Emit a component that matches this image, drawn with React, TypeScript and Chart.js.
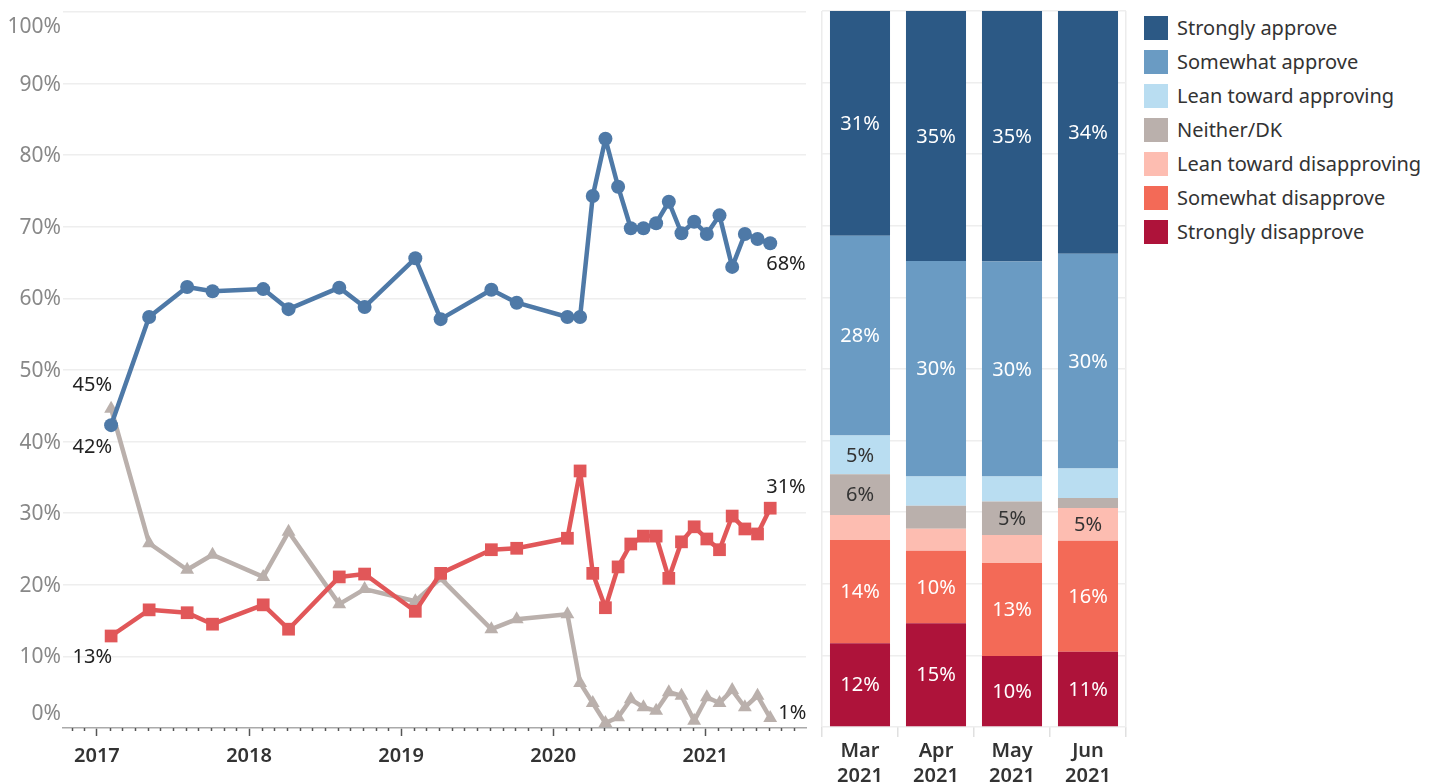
import React, { useEffect, useRef } from 'react';
import { Chart, registerables } from 'chart.js';

Chart.register(...registerables);

const FONT = '"Noto Sans", "DejaVu Sans", sans-serif';

// ---------- Line chart data ----------
const surveyDates = [
  '2017-02', '2017-05', '2017-08', '2017-10', '2018-02', '2018-04', '2018-08', '2018-10',
  '2019-02', '2019-04', '2019-08', '2019-10', '2020-02', '2020-03', '2020-04', '2020-05',
  '2020-06', '2020-07', '2020-08', '2020-09', '2020-10', '2020-11', '2020-12', '2021-01',
  '2021-02', '2021-03', '2021-04', '2021-05', '2021-06',
];
const approveValues = [
  42.3, 57.4, 61.6, 61.0, 61.3, 58.5, 61.5, 58.8,
  65.6, 57.1, 61.2, 59.4, 57.4, 57.4, 74.3, 82.3,
  75.6, 69.8, 69.8, 70.5, 73.5, 69.1, 70.7, 69.0,
  71.6, 64.4, 69.0, 68.3, 67.7,
];
const disapproveValues = [
  12.85, 16.5, 16.1, 14.5, 17.2, 13.8, 21.1, 21.5,
  16.3, 21.6, 24.9, 25.1, 26.5, 35.9, 21.6, 16.8,
  22.5, 25.7, 26.8, 26.8, 20.9, 26.0, 28.1, 26.4,
  24.9, 29.6, 27.8, 27.1, 30.7,
];
const neitherValues = [
  44.6, 25.8, 22.1, 24.2, 21.1, 27.4, 17.3, 19.4,
  17.7, 20.9, 13.8, 15.2, 15.9, 6.3, 3.5, 0.7,
  1.5, 4.0, 2.9, 2.4, 5.0, 4.5, 1.0, 4.3,
  3.5, 5.3, 2.9, 4.5, 1.4,
];
const yearTicks = [2017, 2018, 2019, 2020, 2021];
const percentTicks = [0, 10, 20, 30, 40, 50, 60, 70, 80, 90, 100];

// ---------- Bar chart data ----------
const barMonths = [['Mar', '2021'], ['Apr', '2021'], ['May', '2021'], ['Jun', '2021']];
const responseNames = [
  'Strongly approve', 'Somewhat approve', 'Lean toward approving', 'Neither/DK',
  'Lean toward disapproving', 'Somewhat disapprove', 'Strongly disapprove',
];
const stronglyApprove = [31.4, 34.9, 35.0, 33.9];
const somewhatApprove = [27.9, 30.1, 30.0, 30.0];
const leanApprove = [5.4, 4.1, 3.5, 4.1];
const neitherDK = [5.7, 3.2, 4.7, 1.4];
const leanDisapprove = [3.5, 3.1, 3.9, 4.6];
const somewhatDisapprove = [14.4, 10.1, 13.0, 15.5];
const stronglyDisapprove = [11.7, 14.5, 9.9, 10.5];

const responseValues = [
  stronglyApprove, somewhatApprove, leanApprove, neitherDK,
  leanDisapprove, somewhatDisapprove, stronglyDisapprove,
];
const responseColors = ['#2c5985', '#6a9bc3', '#b9ddf1', '#bab0ac', '#fdbdb1', '#f36a57', '#ae133a'];
const responseLabelColors = ['#ffffff', '#ffffff', '#333333', '#333333', '#333333', '#ffffff', '#ffffff'];

const BLUE = '#4e79a7';
const RED = '#e15759';
const GRAY = '#bab0ac';

const toYear = (d: string) => {
  const [y, m] = d.split('-').map(Number);
  return y + (m - 1) / 12 + 0.01;
};

const labelPlacements = [
  { dataset: 2, which: 'first', align: 'right', dx: 1, dy: -23 },
  { dataset: 0, which: 'first', align: 'right', dx: 1, dy: 22 },
  { dataset: 1, which: 'first', align: 'right', dx: 1, dy: 21 },
  { dataset: 0, which: 'last', align: 'left', dx: -4, dy: 21 },
  { dataset: 1, which: 'last', align: 'left', dx: -4, dy: -21 },
  { dataset: 2, which: 'last', align: 'left', dx: 8, dy: -5 },
];

const endLabelsPlugin = {
  id: 'endLabels',
  afterDatasetsDraw(chart: any) {
    const ctx = chart.ctx;
    ctx.save();
    ctx.font = `20px ${FONT}`;
    ctx.fillStyle = '#222';
    ctx.textBaseline = 'middle';
    labelPlacements.forEach((p) => {
      const meta = chart.getDatasetMeta(p.dataset);
      const idx = p.which === 'first' ? 0 : meta.data.length - 1;
      const el = meta.data[idx];
      const v = chart.data.datasets[p.dataset].data[idx].y;
      ctx.textAlign = p.align;
      ctx.fillText(Math.round(v) + '%', el.x + p.dx, el.y + p.dy);
    });
    ctx.restore();
  },
};

// y-axis labels drawn from the scale, nudging the edge labels inward as in the original
const yLabelsPlugin = {
  id: 'yLabels',
  afterDraw(chart: any) {
    const scale = chart.scales.y;
    const ctx = chart.ctx;
    ctx.save();
    ctx.font = `21px ${FONT}`;
    ctx.fillStyle = '#888';
    ctx.textAlign = 'right';
    ctx.textBaseline = 'middle';
    percentTicks.forEach((v) => {
      const y = scale.getPixelForValue(v);
      const shift = v === 100 ? 15 : v === 0 ? -14 : 1;
      ctx.fillText(v + '%', scale.right - 2, y + shift);
    });
    ctx.restore();
  },
};

const minorTicksPlugin = {
  id: 'minorTicks',
  afterDraw(chart: any) {
    const scale = chart.scales.x;
    const ctx = chart.ctx;
    const bottom = chart.chartArea.bottom;
    ctx.save();
    ctx.strokeStyle = '#555';
    ctx.lineWidth = 1.5;
    const start = Math.ceil(scale.min * 12);
    const end = Math.floor(scale.max * 12);
    for (let m = start; m <= end; m++) {
      if (m % 12 === 0) continue;
      const x = Math.round(scale.getPixelForValue(m / 12)) + 0.5;
      ctx.beginPath();
      ctx.moveTo(x, bottom);
      ctx.lineTo(x, bottom + 3);
      ctx.stroke();
    }
    ctx.restore();
  },
};

const barLabelsPlugin = {
  id: 'barLabels',
  afterDatasetsDraw(chart: any) {
    const ctx = chart.ctx;
    ctx.save();
    ctx.font = `20px ${FONT}`;
    ctx.textAlign = 'center';
    ctx.textBaseline = 'middle';
    chart.data.datasets.forEach((ds: any, di: number) => {
      const meta = chart.getDatasetMeta(di);
      meta.data.forEach((el: any, i: number) => {
        const v = ds.data[i];
        if (Math.round(v) < 5) return;
        const { x, y, base } = el.getProps(['x', 'y', 'base'], true);
        ctx.fillStyle = ds.labelColor;
        ctx.fillText(Math.round(v) + '%', x, (y + base) / 2 + 1);
      });
    });
    ctx.restore();
  },
};

export default function App() {
  const lineRef = useRef<HTMLCanvasElement>(null);
  const barRef = useRef<HTMLCanvasElement>(null);

  useEffect(() => {
    const xs = surveyDates.map(toYear);
    const mk = (vals: number[]) => vals.map((v, i) => ({ x: xs[i], y: v }));
    const common = {
      borderWidth: 4.5, pointBorderWidth: 0, tension: 0, clip: false,
      borderJoinStyle: 'round', borderCapStyle: 'round',
    };
    const lineChart = new Chart(lineRef.current!, {
      type: 'line',
      data: {
        datasets: [
          {
            ...common, label: 'Approve', data: mk(approveValues), borderColor: BLUE, backgroundColor: BLUE,
            pointStyle: 'circle', pointRadius: 7, pointBackgroundColor: BLUE,
          } as any,
          {
            ...common, label: 'Disapprove', data: mk(disapproveValues), borderColor: RED, backgroundColor: RED,
            pointStyle: 'rect', pointRadius: 9, pointBackgroundColor: RED,
          } as any,
          {
            ...common, label: 'Neither/DK', data: mk(neitherValues), borderColor: GRAY, backgroundColor: GRAY,
            pointStyle: 'triangle', pointRadius: 8, pointBackgroundColor: GRAY,
          } as any,
        ],
      },
      options: {
        animation: false,
        responsive: false,
        layout: { padding: { top: 12, right: 7, left: 0, bottom: 0 } },
        plugins: { legend: { display: false }, tooltip: { enabled: false } },
        scales: {
          x: {
            type: 'linear',
            min: 2016.777,
            max: 2021.662,
            afterBuildTicks: (s: any) => { s.ticks = yearTicks.map((v) => ({ value: v })); },
            afterFit: (s: any) => { s.height = 56; },
            ticks: {
              callback: (v: any) => String(v),
              font: { family: FONT, size: 20, weight: '600' },
              color: '#333',
              padding: 8,
              maxRotation: 0,
              autoSkip: false,
            },
            grid: { drawOnChartArea: false, tickLength: 8, tickColor: '#555', tickWidth: 1.5 },
            border: { display: true, color: '#aaa', dash: [2, 3], width: 1.5 },
          },
          y: {
            min: 0,
            max: 100,
            afterBuildTicks: (s: any) => { s.ticks = percentTicks.map((v) => ({ value: v })); },
            afterFit: (s: any) => { s.width = 63; },
            ticks: { display: false },
            grid: {
              color: (c: any) => (c.tick && c.tick.value === 0 ? 'rgba(0,0,0,0)' : '#eeeeee'),
              lineWidth: 1.5,
              drawTicks: false,
            },
            border: { display: false },
          },
        },
      } as any,
      plugins: [endLabelsPlugin, minorTicksPlugin, yLabelsPlugin],
    });

    const barChart = new Chart(barRef.current!, {
      type: 'bar',
      data: {
        labels: barMonths,
        datasets: responseNames
          .map((name, i) => ({
            label: name,
            data: responseValues[i],
            backgroundColor: responseColors[i],
            labelColor: responseLabelColors[i],
            borderWidth: 0,
            categoryPercentage: 1,
            barPercentage: 0.79,
          }))
          .reverse() as any,
      },
      options: {
        animation: false,
        responsive: false,
        layout: { padding: { top: 11, left: 7, right: 9, bottom: 0 } },
        plugins: { legend: { display: false }, tooltip: { enabled: false } },
        scales: {
          x: {
            stacked: true,
            afterFit: (s: any) => { s.height = 57; },
            grid: {
              offset: true,
              color: (c: any) => (c.type !== 'tick' || c.index === 0 ? '#ececec' : 'rgba(0,0,0,0)'),
              tickColor: '#e0e0e0',
              tickLength: 10,
              lineWidth: 1.5,
            },
            border: { display: false },
            ticks: {
              font: { family: FONT, size: 20, weight: '600', lineHeight: 1.25 },
              color: '#333',
              padding: 2,
              maxRotation: 0,
              autoSkip: false,
            },
          },
          y: {
            stacked: true,
            min: 0,
            max: 100,
            afterBuildTicks: (s: any) => { s.ticks = percentTicks.map((v) => ({ value: v })); },
            afterFit: (s: any) => { s.width = 0; },
            ticks: { display: false },
            grid: { color: '#eeeeee', lineWidth: 1.5, drawTicks: false },
            border: { display: false },
          },
        },
      } as any,
      plugins: [barLabelsPlugin],
    });

    return () => {
      lineChart.destroy();
      barChart.destroy();
    };
  }, []);

  return (
    <div style={{ position: 'absolute', left: 0, top: 0, width: 1429, height: 784, overflow: 'hidden', background: '#fff' }}>
      <canvas ref={lineRef} width={815} height={784} style={{ position: 'absolute', left: 0, top: 0, width: 815, height: 784 }} />
      <canvas ref={barRef} width={320} height={784} style={{ position: 'absolute', left: 815, top: 0, width: 320, height: 784 }} />
      <div style={{ position: 'absolute', left: 1144, top: 16, fontFamily: FONT, fontSize: 20, color: '#333' }}>
        {responseNames.map((name, i) => (
          <div key={name} style={{ display: 'flex', alignItems: 'center', height: 34, marginTop: i === 0 ? -5 : 0 }}>
            <div style={{ width: 24, height: 24, background: responseColors[i], marginRight: 9, flex: 'none' }} />
            <span style={{ whiteSpace: 'nowrap', lineHeight: '24px' }}>{name}</span>
          </div>
        ))}
      </div>
    </div>
  );
}
